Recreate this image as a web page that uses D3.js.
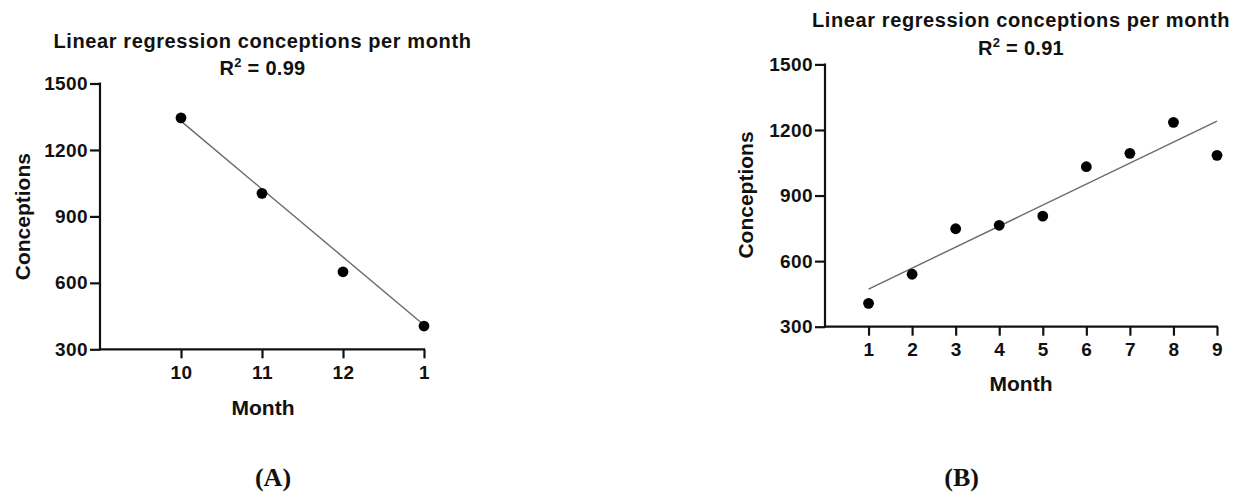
<!DOCTYPE html>
<html><head><meta charset="utf-8">
<script src="https://cdn.jsdelivr.net/npm/d3@7"></script>
<style>
body{margin:0;background:#fff;}
svg text{font-family:"Liberation Sans",Arial,sans-serif;font-weight:bold;fill:#111;}
</style></head>
<body>
<svg id="c" width="1235" height="495"></svg>
<script>
// Panel A data
const monthsA = [10, 11, 12, 13];
const monthLabelsA = ["10", "11", "12", "1"];
const conceptionsA = [1345, 1004, 650, 405];
const fitA = [1330, 410];           // fitted line values at first/last month
const r2A = "0.99";
// Panel B data
const monthsB = [1, 2, 3, 4, 5, 6, 7, 8, 9];
const monthLabelsB = ["1","2","3","4","5","6","7","8","9"];
const conceptionsB = [407, 540, 748, 764, 806, 1032, 1093, 1235, 1084];
const fitB = [472, 1240];
const r2B = "0.91";
const yTicks = [300, 600, 900, 1200, 1500];

const svg = d3.select("#c");

function panel(cfg){
  const x = d3.scaleLinear().domain(cfg.xDomain).range(cfg.xRange);
  const y = d3.scaleLinear().domain([300,1500]).range(cfg.yRange);
  const g = svg.append("g");

  const yAx = g.append("g").attr("transform",`translate(${cfg.xRange[0]},0)`)
    .call(d3.axisLeft(y).tickValues(yTicks).tickFormat(d3.format("d")).tickSize(10).tickPadding(2).tickSizeOuter(0));
  const xAx = g.append("g").attr("transform",`translate(0,${cfg.yRange[0]})`)
    .call(d3.axisBottom(x).tickValues(cfg.months).tickFormat((d,i)=>cfg.labels[i]).tickSize(9).tickPadding(7).tickSizeOuter(0));
  [yAx,xAx].forEach(a=>{
    a.select(".domain").attr("stroke","#111").attr("stroke-width",2.2);
    a.selectAll(".tick line").attr("stroke","#111").attr("stroke-width",2.2);
    a.selectAll(".tick text").style("font-size","19px").style("letter-spacing","0.4px").attr("fill","#111");
  });
  yAx.select(".domain").attr("d",`M0,${cfg.yRange[0]+1}V${y(1500)-1}`);
  xAx.select(".domain").attr("d",`M${cfg.xRange[0]-1},0H${cfg.xRange[1]+1}`);

  // regression line
  g.append("line")
    .attr("x1",x(cfg.months[0])).attr("y1",y(cfg.fit[0]))
    .attr("x2",x(cfg.months[cfg.months.length-1])).attr("y2",y(cfg.fit[1]))
    .attr("stroke","#6a6a6a").attr("stroke-width",1.4);

  g.selectAll("circle.pt").data(cfg.values).enter().append("circle")
    .attr("cx",(d,i)=>x(cfg.months[i])).attr("cy",d=>y(d)).attr("r",5.4).attr("fill","#000");

  // titles
  const cx = cfg.titleX;
  g.append("text").attr("x",cx).attr("y",cfg.titleY).attr("text-anchor","middle")
    .style("font-size","20px").style("letter-spacing","0.6px").text("Linear regression conceptions per month");
  const r = g.append("text").attr("x",cx).attr("y",cfg.titleY+27.5).attr("text-anchor","middle")
    .style("font-size","20px").style("letter-spacing","0.3px");
  r.append("tspan").text("R");
  r.append("tspan").attr("dy",-8).style("font-size","13px").text("2");
  r.append("tspan").attr("dy",8).text(" = " + cfg.r2);

  g.append("text").attr("x",cfg.monthX).attr("y",cfg.monthY).attr("text-anchor","middle")
    .style("font-size","21px").text("Month");
  g.append("text").attr("transform",`translate(${cfg.concX},${cfg.concY}) rotate(-90)`)
    .attr("text-anchor","middle").style("font-size","21px").text("Conceptions");

  svg.append("text").attr("x",cfg.labX).attr("y",486).attr("text-anchor","middle")
    .style("font-family","'Liberation Serif','Times New Roman',serif").style("font-size","26px")
    .html(`(<tspan>${cfg.lab}</tspan>)`);
}

panel({xDomain:[9,13], xRange:[100,424], yRange:[349.3,83.5], months:monthsA, labels:monthLabelsA,
  values:conceptionsA, fit:fitA, r2:r2A, titleX:262.5, titleY:47.5, monthX:263, monthY:415,
  concX:30, concY:216.7, labX:273, lab:"A"});
panel({xDomain:[0,9], xRange:[825,1217], yRange:[326.7,64.4], months:monthsB, labels:monthLabelsB,
  values:conceptionsB, fit:fitB, r2:r2B, titleX:1021, titleY:27.3, monthX:1021, monthY:391,
  concX:752.5, concY:195, labX:961.7, lab:"B"});
</script>
</body></html>
